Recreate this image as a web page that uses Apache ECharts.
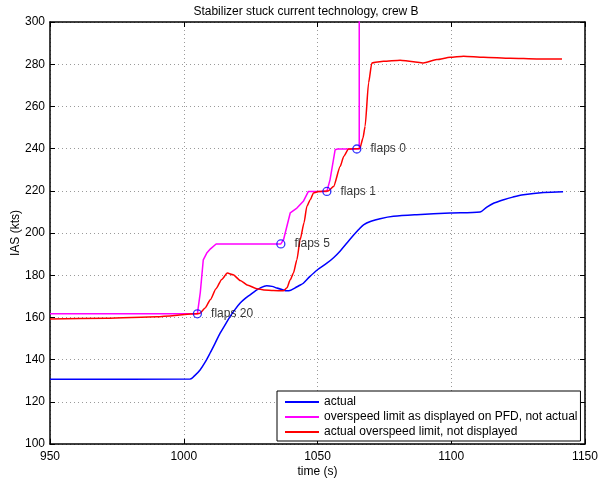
<!DOCTYPE html>
<html>
<head>
<meta charset="utf-8">
<script src="https://cdn.jsdelivr.net/npm/echarts@6/dist/echarts.min.js"></script>
<style>
  html, body { margin: 0; padding: 0; background: #fff; }
  #chart { width: 598px; height: 483px; }
</style>
</head>
<body>
<div id="chart"></div>
<script>
// Indicated airspeed trace (kts) against time (s)
const actualT = [950, 1002.4, 1004, 1006.1, 1008, 1009.8, 1011.7, 1013.6, 1015.5, 1017.3, 1019.2, 1021.1, 1023, 1024.8, 1026.7, 1028.5, 1031, 1033, 1034.8, 1036.7, 1038.5, 1040, 1041.5, 1043, 1044.7, 1047, 1050, 1053.5, 1056, 1058.5, 1062, 1065.3, 1067.2, 1070, 1073.4, 1078.4, 1087.1, 1099.6, 1110.8, 1113.3, 1116, 1119.6, 1123, 1127, 1134.5, 1141.8];
const actualV = [130.7, 130.8, 132.3, 135.1, 138.8, 143, 147.7, 152.5, 156.6, 160.4, 163.8, 166.8, 169, 170.7, 172.5, 173.9, 175, 174.7, 173.9, 173.2, 172.6, 172.9, 173.9, 175, 176.2, 179.2, 182.6, 185.7, 188.3, 191.5, 196.8, 201.5, 203.9, 205.6, 206.8, 207.9, 208.7, 209.5, 210, 212.3, 214.2, 215.8, 217, 218.1, 219.2, 219.6];

// Overspeed limit shown on the PFD
const pfdT = [950, 1005.1, 1006.2, 1007.3, 1008.6, 1010, 1012.1, 1036.3, 1037.3, 1039.8, 1042.3, 1044.7, 1046.6, 1053.5, 1054.7, 1056.6, 1057.5, 1064.7, 1065.6, 1065.6];
const pfdV = [161.7, 161.7, 172, 187.3, 190.5, 192.5, 194.8, 194.8, 196.8, 209.5, 211.8, 215, 219.7, 219.7, 225.3, 239.5, 239.8, 239.8, 239.8, 330];

// Real overspeed limit
const limitT = [950, 971.2, 990, 1005.1, 1006.1, 1008, 1010, 1012, 1014.2, 1016.3, 1018.5, 1021.1, 1024, 1027.3, 1030, 1033.5, 1037.3, 1038.6, 1039.8, 1041, 1042.3, 1043.5, 1045, 1046, 1047.3, 1048.5, 1050.4, 1054, 1056, 1058.5, 1059.8, 1061.6, 1065.8, 1067, 1067.8, 1069.1, 1070.3, 1074.7, 1080.9, 1085.1, 1089.6, 1094.6, 1099.6, 1104.6, 1112.1, 1122.1, 1132, 1141.4];
const limitV = [159.2, 159.6, 160.3, 161.7, 162, 164.5, 168.5, 173.5, 178, 181, 180.2, 177.5, 175.2, 173.6, 173, 172.7, 172.6, 174, 177.8, 181, 187.3, 196.8, 205, 212.6, 215.8, 219, 219.7, 219.9, 222, 231.6, 236.3, 239.8, 240, 245, 250.6, 271.2, 280.6, 281.4, 281.9, 281.3, 280.6, 282.2, 283.3, 283.8, 283.3, 282.8, 282.5, 282.5];

// Flap selection points
const flapT = [1005.1, 1036.3, 1053.5, 1064.7];
const flapV = [161.7, 194.8, 219.7, 239.8];
const flapNames = ['flaps 20', 'flaps 5', 'flaps 1', 'flaps 0'];

const seriesNames = ['actual', 'overspeed limit as displayed on PFD, not actual', 'actual overspeed limit, not displayed'];
const xTicks = { min: 950, max: 1150, interval: 50 };
const yTicks = { min: 100, max: 300, interval: 20 };

const pairs = (t, v) => t.map((x, i) => [x, v[i]]);
const FONT = '"Liberation Sans", Arial, Helvetica, sans-serif';
const FS = 12;

const gridLine = { show: true, lineStyle: { color: '#9a9a9a', type: [1, 3], width: 1 } };
const inTick = { show: true, inside: true, length: 5, lineStyle: { color: '#000' } };
const frameLine = { show: true, lineStyle: { color: '#000', width: 1.5 } };
const axisLabelStyle = { color: '#000', fontFamily: FONT, fontSize: FS };

const chart = echarts.init(document.getElementById('chart'), null, { renderer: 'canvas' });
chart.setOption({
  animation: false,
  backgroundColor: '#fff',
  title: {
    text: 'Stabilizer stuck current technology, crew B',
    left: 301, top: 1, textAlign: 'center',
    textStyle: { fontFamily: FONT, fontSize: FS, fontWeight: 'normal', color: '#000' }
  },
  grid: { left: 50, right: 13, top: 22, bottom: 39, outerBoundsMode: 'none', containLabel: false, show: false },
  legend: {
    data: seriesNames,
    orient: 'vertical',
    left: 277, top: 391,
    backgroundColor: '#fff', borderColor: '#000', borderWidth: 1, borderRadius: 0,
    padding: [4, 3, 2, 8],
    itemGap: 1,
    itemWidth: 34, itemHeight: 2,
    icon: 'rect',
    textStyle: { fontFamily: FONT, fontSize: FS, color: '#000', lineHeight: 14 }
  },
  xAxis: [{
    type: 'value', min: xTicks.min, max: xTicks.max, interval: xTicks.interval,
    name: 'time (s)', nameLocation: 'middle', nameGap: 22, nameMoveOverlap: false,
    nameTextStyle: { fontFamily: FONT, fontSize: FS, color: '#000' },
    axisLine: frameLine,
    axisTick: inTick,
    axisLabel: Object.assign({ margin: 7, formatter: v => String(v) }, axisLabelStyle),
    splitLine: gridLine
  }, {
    type: 'value', position: 'top', min: xTicks.min, max: xTicks.max, interval: xTicks.interval,
    axisLine: frameLine,
    axisTick: inTick, axisLabel: { show: false }, splitLine: { show: false }
  }],
  yAxis: [{
    type: 'value', min: yTicks.min, max: yTicks.max, interval: yTicks.interval,
    name: 'IAS (kts)', nameLocation: 'middle', nameGap: 28, nameRotate: 90, nameMoveOverlap: false,
    nameTextStyle: { fontFamily: FONT, fontSize: FS, color: '#000' },
    axisLine: frameLine,
    axisTick: inTick,
    axisLabel: Object.assign({ margin: 5, formatter: v => String(v) }, axisLabelStyle),
    splitLine: gridLine
  }, {
    type: 'value', position: 'right', min: yTicks.min, max: yTicks.max, interval: yTicks.interval,
    axisLine: frameLine,
    axisTick: inTick, axisLabel: { show: false }, splitLine: { show: false }
  }],
  series: [{
    name: seriesNames[0], type: 'line', data: pairs(actualT, actualV),
    showSymbol: false, symbol: 'none', smooth: 0.3, clip: true,
    lineStyle: { color: '#0000ff', width: 1.5 }, itemStyle: { color: '#0000ff' }
  }, {
    name: seriesNames[1], type: 'line', data: pairs(pfdT, pfdV),
    showSymbol: false, symbol: 'none', clip: true,
    lineStyle: { color: '#ff00ff', width: 1.5 }, itemStyle: { color: '#ff00ff' }
  }, {
    name: seriesNames[2], type: 'line', data: pairs(limitT, limitV),
    showSymbol: false, symbol: 'none', smooth: 0.2, smoothMonotone: 'x', clip: true,
    lineStyle: { color: '#ff0000', width: 1.5 }, itemStyle: { color: '#ff0000' }
  }, {
    name: 'flaps', type: 'scatter',
    data: flapT.map((t, i) => ({ value: [t, flapV[i]], name: flapNames[i] })),
    symbol: 'circle', symbolSize: 8,
    itemStyle: { color: 'rgba(0,0,0,0)', borderColor: '#0000ff', borderWidth: 1.3 },
    label: {
      show: true, position: 'right', distance: 9,
      formatter: p => p.name,
      fontFamily: FONT, fontSize: FS, color: '#000'
    },
    z: 5
  }]
});
</script>
</body>
</html>
